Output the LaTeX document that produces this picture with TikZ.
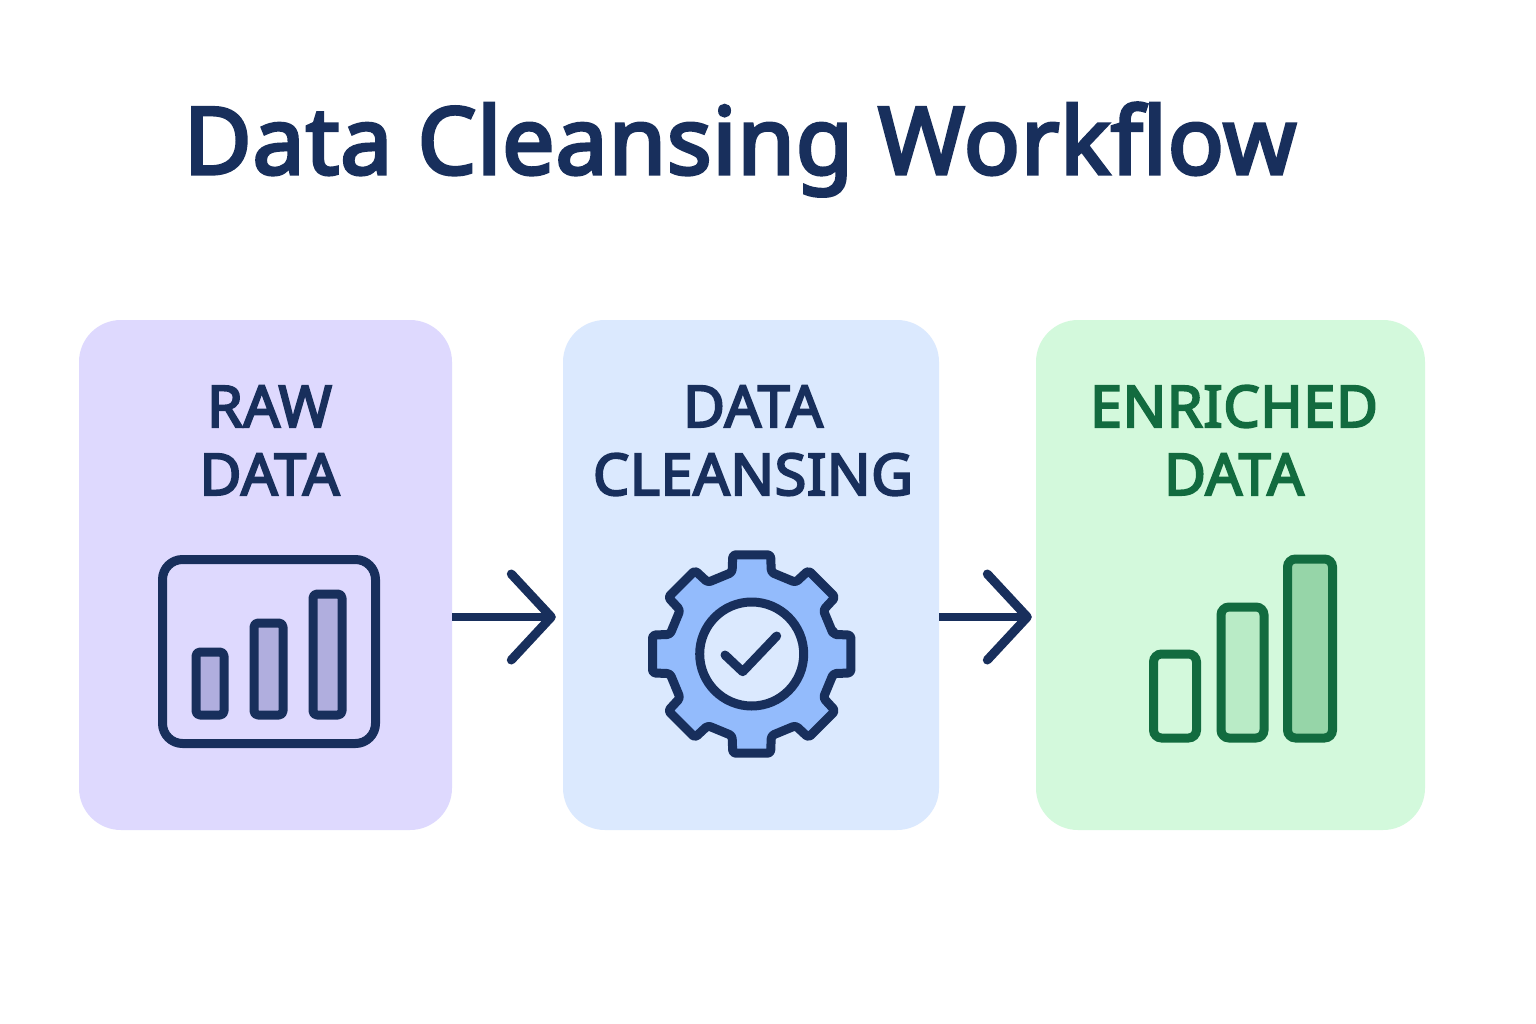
\documentclass[tikz,border=0pt]{standalone}
\usepackage{fontspec}
\setmainfont{Noto Sans}[AutoFakeBold=3.6,LetterSpace=1]
\usetikzlibrary{arrows.meta,calc}
\definecolor{navy}{HTML}{182F5C}
\definecolor{leaf}{HTML}{126B3F}
\definecolor{cardpurple}{HTML}{DED9FE}
\definecolor{cardblue}{HTML}{DBE9FE}
\definecolor{cardgreen}{HTML}{D3F9DC}
\definecolor{barpurple}{HTML}{B0AEDE}
\definecolor{gearblue}{HTML}{93BBFC}
\definecolor{barmid}{HTML}{B9EBC6}
\definecolor{bardark}{HTML}{96D5A8}
\tikzset{
  card/.style={rectangle,rounded corners=42pt,inner sep=0pt,minimum height=510pt},
  cardlabel/.style={align=center,font=\fontsize{57.5}{68}\selectfont\bfseries,inner sep=0pt,anchor=base},
  titletext/.style={font=\fontsize{93}{100}\selectfont\bfseries,text=navy,inner sep=0pt,anchor=base},
  iconline/.style={draw=navy,line width=9pt,line join=round,line cap=round},
  greenbar/.style={draw=leaf,line width=9pt,rounded corners=8pt},
  flow/.style={draw=navy,line width=8pt,-{Straight Barb[length=40pt,width=86pt,line width=9pt,round]}},
}
\begin{document}
\begin{tikzpicture}[x=1pt,y=-1pt]
\useasboundingbox (0,0) rectangle (1536,1024);
\fill[white] (0,0) rectangle (1536,1024);
\node[titletext] (title) at (740,174) {Data Cleansing Workflow};
\node[card,fill=cardpurple,minimum width=373pt] (raw) at (265.5,575) {};
\node[card,fill=cardblue,minimum width=376pt] (clean) at (751,575) {};
\node[card,fill=cardgreen,minimum width=389pt] (rich) at (1230.5,575) {};
\node[cardlabel,text=navy] (rawt) at (269.5,495) {RAW\\DATA};
\node[cardlabel,text=navy] (cleant) at (753,495) {DATA\\CLEANSING};
\node[cardlabel,text=leaf] (richt) at (1234,495) {ENRICHED\\DATA};
% raw icon
\draw[iconline,rounded corners=20pt] (162.5,559.5) rectangle (375.5,743.5);
\draw[iconline,fill=barpurple,rounded corners=4pt] (196,652) rectangle (224,715);
\draw[iconline,fill=barpurple,rounded corners=4pt] (254,623) rectangle (283,715);
\draw[iconline,fill=barpurple,rounded corners=4pt] (313,594) rectangle (342,715);
% gear
\draw[iconline,fill=gearblue,rounded corners=3pt]
  ($(751.7,654)+(-13.5:84)$)
  \foreach \a in {0,45,...,315}{
   -- ($(751.7,654)+(\a-13.5:84)$) -- ($(751.7,654)+(\a-10.8:101)$) -- ($(751.7,654)+(\a+10.8:101)$) -- ($(751.7,654)+(\a+13.5:84)$)
  } -- cycle;
\draw[iconline,fill=cardblue] (751.7,654) circle (52);
\draw[iconline] (725,655) -- (742.7,671.7) -- (776.7,636);
% enriched icon
\draw[greenbar,fill=cardgreen] (1153.5,654) rectangle (1196.5,738);
\draw[greenbar,fill=barmid] (1221,607) rectangle (1264,738);
\draw[greenbar,fill=bardark] (1287.5,559) rectangle (1332.5,738);
% connectors
\draw[flow,shorten >=7pt] ([yshift=-42pt]raw.east) -- ([yshift=-42pt]clean.west);
\draw[flow,shorten >=4pt] ([yshift=-42pt]clean.east) -- ([yshift=-42pt]rich.west);
\end{tikzpicture}
\end{document}
